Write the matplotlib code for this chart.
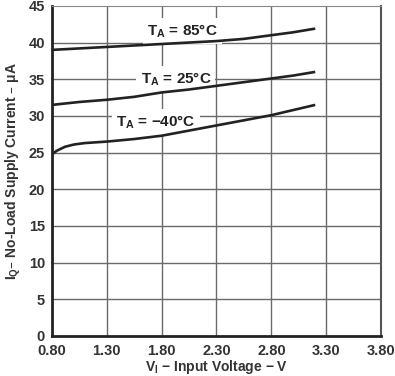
import numpy as np
import matplotlib.pyplot as plt

plt.rcParams['font.family'] = ['Liberation Sans', 'DejaVu Sans']

# input voltage (V) sample points
v_85 = [0.80, 1.30, 1.80, 2.30, 2.55, 2.80, 3.00, 3.20]
iq_85 = [39.0, 39.4, 39.8, 40.2, 40.5, 41.0, 41.4, 41.9]

v_25 = [0.80, 1.05, 1.30, 1.55, 1.80, 2.05, 2.30, 2.55, 2.80, 3.00, 3.20]
iq_25 = [31.5, 31.9, 32.2, 32.6, 33.2, 33.6, 34.1, 34.6, 35.1, 35.5, 36.0]

v_m40 = [0.80, 0.85, 0.92, 1.00, 1.10, 1.30, 1.55, 1.80, 2.05, 2.30, 2.55, 2.80, 3.00, 3.20]
iq_m40 = [24.8, 25.3, 25.8, 26.1, 26.3, 26.5, 26.85, 27.3, 28.0, 28.7, 29.4, 30.1, 30.8, 31.5]

x_ticks = [0.80, 1.30, 1.80, 2.30, 2.80, 3.30, 3.80]
y_ticks = [0, 5, 10, 15, 20, 25, 30, 35, 40, 45]

fig = plt.figure(figsize=(3.95, 3.76), dpi=100)
ax = fig.add_axes([0.1316, 0.1064, 0.833, 0.878])

for x in x_ticks[1:-1]:
    ax.axvline(x, color='#6a6a6a', lw=1.0, zorder=1)
for y in y_ticks[1:-1]:
    ax.axhline(y, color='#6a6a6a', lw=1.0, zorder=1)

for v, iq in [(v_85, iq_85), (v_25, iq_25), (v_m40, iq_m40)]:
    ax.plot(v, iq, color='#222222', lw=1.9, zorder=4, solid_capstyle='butt',
            solid_joinstyle='round')

box = dict(facecolor='white', edgecolor='none', pad=3)
lbl_kw = dict(fontsize=11, fontweight='bold', color='#222222',
              ha='center', va='center', bbox=box, zorder=3)
ax.text(1.99, 41.6, 'T$_\\mathregular{A}$ = 85°C', **lbl_kw)
ax.text(1.93, 35.0, 'T$_\\mathregular{A}$ = 25°C', **lbl_kw)
ax.text(1.75, 29.2, 'T$_\\mathregular{A}$ = \u221240°C', **lbl_kw)

ax.set_xlim(0.80, 3.80)
ax.set_ylim(0, 45)
ax.set_xticks(x_ticks, [f'{x:.2f}' for x in x_ticks])
ax.set_yticks(y_ticks)
ax.tick_params(length=0, labelsize=10.5)
ax.tick_params(axis='x', pad=6)
ax.tick_params(axis='y', pad=5)
for lbl in ax.get_xticklabels() + ax.get_yticklabels():
    lbl.set_fontweight('bold')
    lbl.set_color('#333333')

ax.spines['left'].set_linewidth(2.0)
ax.spines['bottom'].set_linewidth(2.0)
ax.spines['left'].set_color('#222222')
ax.spines['bottom'].set_color('#222222')
ax.spines['top'].set_color('#888888')
ax.spines['right'].set_color('#555555')
ax.spines['right'].set_linewidth(1.5)

ax.set_xlabel('V$_\\mathregular{I}$ \u2212 Input Voltage \u2212 V', fontsize=10,
              fontweight='bold', color='#333333', labelpad=0)
ax.set_ylabel('I$_\\mathregular{Q}$\u2013 No-Load Supply Current \u2013 \u03bcA', fontsize=10,
              fontweight='bold', color='#333333', labelpad=4)

fig.savefig('out.png', dpi=100)
